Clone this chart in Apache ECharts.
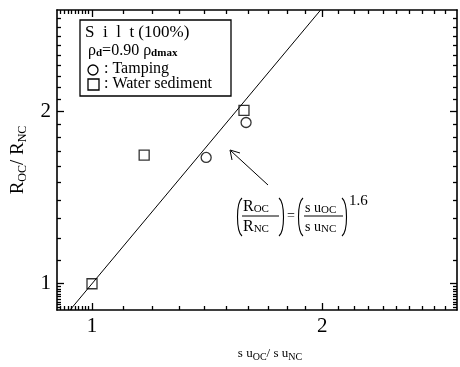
<!DOCTYPE html>
<html>
<head>
<meta charset="utf-8">
<script src="https://cdn.jsdelivr.net/npm/echarts@6/dist/echarts.min.js"></script>
<style>
html, body { margin: 0; background: #fff; }
#chart { width: 460px; height: 367px; }
</style>
</head>
<body>
<div id="chart"></div>
<script>
// data (log-log axes)
var tamping = [[1.41, 1.66], [1.59, 1.91]];
var waterSediment = [[1.0, 1.0], [1.17, 1.675], [1.58, 2.005]];
var fitLine = [[0.936, 0.9], [1.99, 3.0]];   // (R_OC/R_NC) = (su_OC/su_NC)^1.6
var tickLabels = [1, 2];
var majorTicks = [1, 2];
var minorTicks = [0.91, 0.92, 0.93, 0.94, 0.95, 0.96, 0.97, 0.98, 0.99,
                  1.1, 1.2, 1.3, 1.4, 1.5, 1.6, 1.7, 1.8, 1.9,
                  2.1, 2.2, 2.3, 2.4, 2.5, 2.6, 2.7, 2.8, 2.9];

var serif = 'Liberation Serif';
var myChart = echarts.init(document.getElementById('chart'));

function axis(pos, ticks, len, main) {
    return {
        type: 'log',
        position: pos,
        min: 0.9,
        max: 3,
        axisLine: { show: main, lineStyle: { color: '#000', width: 1.6 } },
        axisTick: { show: true, inside: true, length: len, customValues: ticks,
                    lineStyle: { color: '#000', width: 1.3 } },
        axisLabel: { show: main && (pos == 'bottom' || pos == 'left'), customValues: tickLabels,
                     fontFamily: serif, fontSize: 21, color: '#000', margin: 6 },
        splitLine: { show: false }
    };
}

// paren as a thin curve, x = left edge, dir 1 for "(" and -1 for ")"
function paren(x, dir) {
    var a = dir > 0 ? x + 5 : x, b = dir > 0 ? x : x + 5;
    return { type: 'bezierCurve',
             shape: { x1: a, y1: 198, x2: a, y2: 236, cpx1: b - dir, cpy1: 203, cpx2: b - dir, cpy2: 231 },
             style: { stroke: '#000', fill: null, lineWidth: 1.1 } };
}

var xs = [axis('bottom', majorTicks, 7, true), axis('bottom', minorTicks, 4, false),
          axis('top', majorTicks, 7, true), axis('top', minorTicks, 4, false)];
var ys = [axis('left', majorTicks, 7, true), axis('left', minorTicks, 4, false),
          axis('right', majorTicks, 7, true), axis('right', minorTicks, 4, false)];

xs[0].name = 's u{s|OC}/ s u{s|NC}';
xs[0].nameLocation = 'middle';
xs[0].nameGap = 36;
xs[0].nameTextStyle = { fontFamily: serif, fontSize: 13, color: '#000', padding: [0, 0, 0, 26],
                        rich: { s: { fontFamily: serif, fontSize: 10, verticalAlign: 'bottom', padding: [6, 0, 0, 0] } } };
ys[0].name = 'R{s|OC}/ R{s|NC}';
ys[0].nameLocation = 'middle';
ys[0].nameGap = 28;
ys[0].nameRotate = 90;
ys[0].nameTextStyle = { fontFamily: serif, fontSize: 19, color: '#000',
                        rich: { s: { fontFamily: serif, fontSize: 12, padding: [9, 0, 0, 0] } } };

var sub = { fontFamily: serif, fontSize: 11, fontWeight: 'bold', padding: [6, 0, 0, 0], fill: '#000' };
var fsub = { s: { fontFamily: serif, fontSize: 11, padding: [5, 0, 0, 0] } };

var option = {
    animation: false,
    grid: { left: 57, right: 3, top: 10, bottom: 49 },
    xAxis: xs,
    yAxis: ys,
    series: [{
        name: 'fit',
        type: 'line',
        data: fitLine,
        symbol: 'none',
        lineStyle: { color: '#000', width: 1 }
    }, {
        name: 'Tamping',
        type: 'scatter',
        data: tamping,
        symbol: 'circle',
        symbolSize: 10,
        itemStyle: { color: '#fff', borderColor: '#000', borderWidth: 1.3 }
    }, {
        name: 'Water sediment',
        type: 'scatter',
        data: waterSediment,
        symbol: 'rect',
        symbolSize: 10,
        itemStyle: { color: '#fff', borderColor: '#000', borderWidth: 1.3 }
    }],
    graphic: [
        // legend box
        { type: 'rect', shape: { x: 80, y: 20, width: 151, height: 76 },
          style: { fill: '#fff', stroke: '#000', lineWidth: 1.3 } },
        { type: 'text', x: 85, y: 24, style: { text: 'S  i  l  t (100%)', font: '17px ' + serif, fill: '#000' } },
        { type: 'text', x: 88, y: 42, style: { text: 'ρ{s|d}=0.90 ρ{s|dmax}', font: '16px ' + serif, fill: '#000',
          rich: { s: sub } } },
        { type: 'circle', shape: { cx: 93, cy: 70, r: 5 }, style: { fill: '#fff', stroke: '#000', lineWidth: 1.3 } },
        { type: 'text', x: 104, y: 61, style: { text: ': Tamping', font: '16px ' + serif, fill: '#000' } },
        { type: 'rect', shape: { x: 88, y: 79, width: 11, height: 11 }, style: { fill: '#fff', stroke: '#000', lineWidth: 1.3 } },
        { type: 'text', x: 104, y: 76, style: { text: ': Water sediment', font: '16px ' + serif, fill: '#000' } },
        // arrow
        { type: 'line', shape: { x1: 268, y1: 185, x2: 231, y2: 151 }, style: { stroke: '#000', lineWidth: 1 } },
        { type: 'polyline', shape: { points: [[232, 160], [230, 150], [240, 153]] }, style: { stroke: '#000', fill: null, lineWidth: 1 } },
        // formula
        paren(237, 1),
        { type: 'text', x: 243, y: 199, style: { text: 'R{s|OC}', font: '16px ' + serif, fill: '#000', rich: fsub } },
        { type: 'line', shape: { x1: 242, y1: 216, x2: 279, y2: 216 }, style: { stroke: '#000', lineWidth: 1 } },
        { type: 'text', x: 243, y: 219, style: { text: 'R{s|NC}', font: '16px ' + serif, fill: '#000', rich: fsub } },
        paren(279, -1),
        { type: 'text', x: 287, y: 209, style: { text: '=', font: '14px ' + serif, fill: '#000' } },
        paren(298, 1),
        { type: 'text', x: 305, y: 200, style: { text: 's u{s|OC}', font: '14px ' + serif, fill: '#000', rich: fsub } },
        { type: 'line', shape: { x1: 304, y1: 216, x2: 343, y2: 216 }, style: { stroke: '#000', lineWidth: 1 } },
        { type: 'text', x: 305, y: 219, style: { text: 's u{s|NC}', font: '14px ' + serif, fill: '#000', rich: fsub } },
        paren(342, -1),
        { type: 'text', x: 349, y: 194, style: { text: '1.6', font: '15px ' + serif, fill: '#000' } }
    ]
};

myChart.setOption(option);
</script>
</body>
</html>
